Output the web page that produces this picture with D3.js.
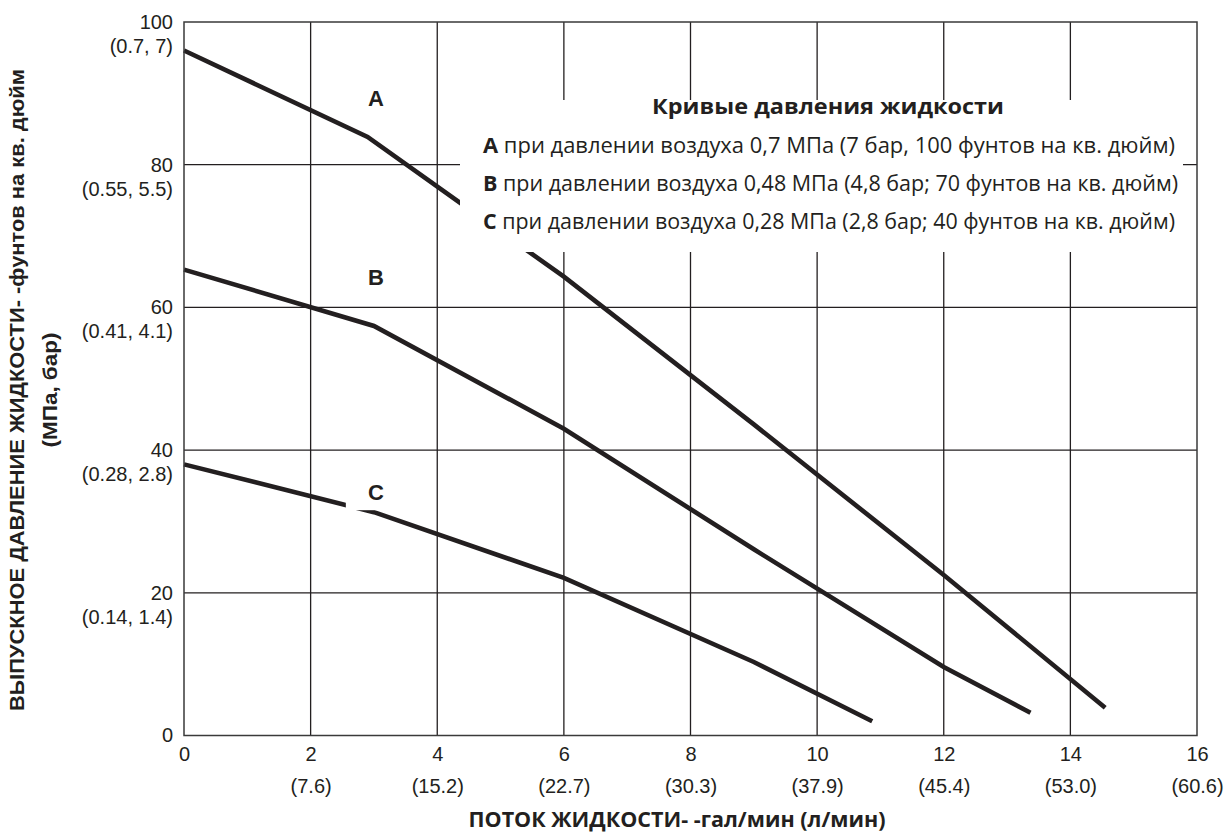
<!DOCTYPE html>
<html>
<head>
<meta charset="utf-8">
<script src="https://cdn.jsdelivr.net/npm/d3@7"></script>
<style>
  body { margin: 0; background: #fff; }
  svg { display: block; }
</style>
</head>
<body>
<div id="chart"></div>
<script>
// flow ticks (gal/min) and their l/min equivalents
var flowTicks = [0, 2, 4, 6, 8, 10, 12, 14, 16];
var flowLitres = ['', '(7.6)', '(15.2)', '(22.7)', '(30.3)', '(37.9)', '(45.4)', '(53.0)', '(60.6)'];

// pressure ticks (psi) and their MPa, bar equivalents
var pressureTicks = [0, 20, 40, 60, 80, 100];
var pressureMetric = ['', '(0.14, 1.4)', '(0.28, 2.8)', '(0.41, 4.1)', '(0.55, 5.5)', '(0.7, 7)'];

// fluid pressure curves
var curveNames = ['A', 'B', 'C'];
var flowA = [0, 2.9, 6, 9, 12, 14.55];
var psiA = [96.0, 83.9, 64.3, 43.6, 22.5, 3.9];
var flowB = [0, 3, 6, 9, 12, 13.37];
var psiB = [65.3, 57.4, 43.0, 26.1, 9.6, 3.2];
var flowC = [0, 3, 6, 9, 10.87];
var psiC = [38.0, 31.3, 22.1, 10.3, 2.0];
// where the curve letters sit (gal/min, psi)
var labelFlow = [3.03, 3.03, 3.03];
var labelPsi = [89.4, 64.3, 34.1];

var legendTitle = 'Кривые давления жидкости';
var legendText = [
  'при давлении воздуха 0,7 МПа (7 бар, 100 фунтов на кв. дюйм)',
  'при давлении воздуха 0,48 МПа (4,8 бар; 70 фунтов на кв. дюйм)',
  'при давлении воздуха 0,28 МПа (2,8 бар; 40 фунтов на кв. дюйм)'
];
var xTitle = 'ПОТОК ЖИДКОСТИ- -гал/мин (л/мин)';
var yTitle1 = 'ВЫПУСКНОЕ ДАВЛЕНИЕ ЖИДКОСТИ- -фунтов на кв. дюйм';
var yTitle2 = '(МПа, бар)';

var W = 1224, H = 835;
var INK = '#231f20';
var TICK_FONT = '"Liberation Sans", Arial, sans-serif';
var TEXT_FONT = '"Open Sans", "Noto Sans", sans-serif';

var svg = d3.select('#chart').append('svg')
  .attr('width', W).attr('height', H)
  .attr('viewBox', '0 0 ' + W + ' ' + H);
svg.append('rect').attr('width', W).attr('height', H).attr('fill', '#fff');

var x = d3.scaleLinear().domain([0, 16]).range([184, 1197]);
var y = d3.scaleLinear().domain([0, 100]).range([735.5, 22]);

// grid
var grid = svg.append('g').attr('stroke', INK).attr('stroke-width', 1.3);
grid.selectAll('.vgrid').data(flowTicks.slice(1, -1)).enter().append('line')
  .attr('x1', function (d) { return x(d); }).attr('x2', function (d) { return x(d); })
  .attr('y1', y(0)).attr('y2', y(100));
grid.selectAll('.hgrid').data(pressureTicks.slice(1, -1)).enter().append('line')
  .attr('x1', x(0)).attr('x2', x(16))
  .attr('y1', function (d) { return y(d); }).attr('y2', function (d) { return y(d); });

// curves
var curves = [d3.zip(flowA, psiA), d3.zip(flowB, psiB), d3.zip(flowC, psiC)];
var line = d3.line().x(function (d) { return x(d[0]); }).y(function (d) { return y(d[1]); });
svg.append('g').selectAll('path').data(curves).enter().append('path')
  .attr('d', line)
  .attr('fill', 'none').attr('stroke', INK).attr('stroke-width', 4.6)
  .attr('stroke-linejoin', 'miter').attr('stroke-linecap', 'butt');

// frame
svg.append('rect')
  .attr('x', x(0)).attr('y', y(100))
  .attr('width', x(16) - x(0)).attr('height', y(0) - y(100))
  .attr('fill', 'none').attr('stroke', '#3a3a3a').attr('stroke-width', 1.5);

// legend box knocks out the grid and curve A
var legend = svg.append('g');
legend.append('rect').attr('x', 460).attr('y', 100).attr('width', 723).attr('height', 152).attr('fill', '#fff');
legend.append('text')
  .attr('x', 828).attr('y', 114).attr('text-anchor', 'middle')
  .attr('font-family', TEXT_FONT).attr('font-weight', 700).attr('font-size', 21)
  .attr('fill', INK).attr('textLength', 352).attr('lengthAdjust', 'spacingAndGlyphs')
  .text(legendTitle);
var rowEnds = [1175, 1178, 1175];
legendText.forEach(function (t, i) {
  var row = legend.append('text')
    .attr('x', 483).attr('y', 153 + i * 38)
    .attr('font-family', TEXT_FONT).attr('font-size', 21).attr('fill', INK)
    .attr('textLength', rowEnds[i] - 483).attr('lengthAdjust', 'spacingAndGlyphs');
  row.append('tspan').attr('font-weight', 700).text(curveNames[i]);
  row.append('tspan').text(' ' + t);
});

// curve letters with a white backing
var labels = svg.append('g');
curveNames.forEach(function (n, i) {
  var cx = x(labelFlow[i]), cy = y(labelPsi[i]);
  labels.append('rect').attr('x', cx - 30).attr('y', cy - 16).attr('width', 60).attr('height', 34).attr('fill', '#fff');
  labels.append('text').attr('x', cx).attr('y', cy + 8).attr('text-anchor', 'middle')
    .attr('font-family', TICK_FONT).attr('font-weight', 700).attr('font-size', 22)
    .attr('fill', INK).text(n);
});

// x axis: gal/min row and l/min row
var xAxisA = svg.append('g').attr('transform', 'translate(0,' + (y(0) + 8) + ')')
  .call(d3.axisBottom(x).tickValues(flowTicks).tickSize(0).tickFormat(d3.format('d')));
var xAxisB = svg.append('g').attr('transform', 'translate(0,' + (y(0) + 40) + ')')
  .call(d3.axisBottom(x).tickValues(flowTicks).tickSize(0)
    .tickFormat(function (d, i) { return flowLitres[i]; }));

// y axis: psi row and MPa, bar row
var yAxisA = svg.append('g').attr('transform', 'translate(' + (x(0) - 8) + ',0)')
  .call(d3.axisLeft(y).tickValues(pressureTicks).tickSize(0).tickFormat(d3.format('d')));
var yAxisB = svg.append('g').attr('transform', 'translate(' + (x(0) - 8) + ',24)')
  .call(d3.axisLeft(y).tickValues(pressureTicks).tickSize(0)
    .tickFormat(function (d, i) { return pressureMetric[i]; }));

[xAxisA, xAxisB, yAxisA, yAxisB].forEach(function (a) {
  a.select('.domain').remove();
  a.selectAll('.tick text').attr('font-family', TICK_FONT).attr('font-size', 20).attr('fill', INK);
});
[xAxisA, xAxisB].forEach(function (a) { a.selectAll('.tick text').attr('dy', '0.71em'); });

// axis titles
svg.append('text')
  .attr('x', 677).attr('y', 827).attr('text-anchor', 'middle')
  .attr('font-family', TEXT_FONT).attr('font-weight', 700).attr('font-size', 21).attr('fill', INK)
  .attr('textLength', 417).attr('lengthAdjust', 'spacingAndGlyphs')
  .text(xTitle);
svg.append('text')
  .attr('transform', 'translate(24,390) rotate(-90)').attr('text-anchor', 'middle')
  .attr('font-family', TICK_FONT).attr('font-weight', 700).attr('font-size', 20).attr('fill', INK)
  .attr('textLength', 642).attr('lengthAdjust', 'spacingAndGlyphs')
  .text(yTitle1);
svg.append('text')
  .attr('transform', 'translate(57,390) rotate(-90)').attr('text-anchor', 'middle')
  .attr('font-family', TICK_FONT).attr('font-weight', 700).attr('font-size', 20).attr('fill', INK)
  .attr('textLength', 115).attr('lengthAdjust', 'spacingAndGlyphs')
  .text(yTitle2);
</script>
</body>
</html>
